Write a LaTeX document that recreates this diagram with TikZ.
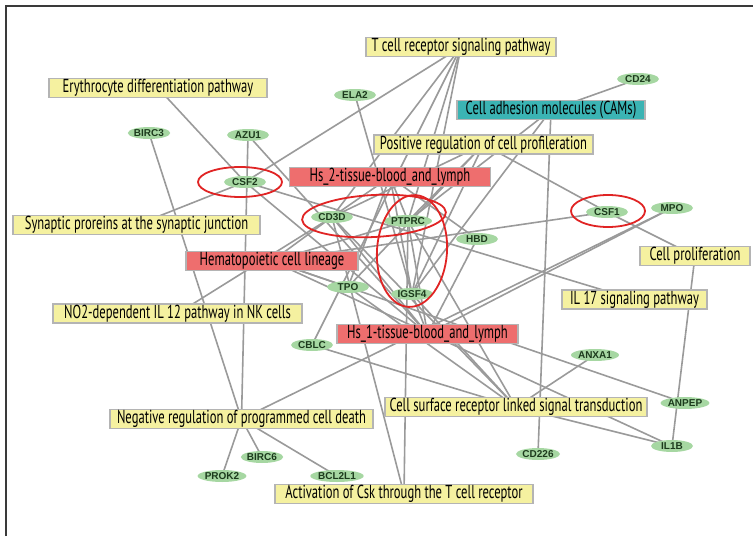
\documentclass[tikz,border=0pt]{standalone}
\usepackage{fontspec}
\setmainfont{PT Sans}
\newfontfamily\termfont[FakeStretch=0.67]{PT Sans}
\newfontfamily\genefont{Liberation Sans}
\usetikzlibrary{shapes.geometric,backgrounds}
\definecolor{netgray}{HTML}{9A9A9A}
\definecolor{boxrim}{HTML}{B4B4B4}
\definecolor{pwyellow}{HTML}{F5F1A0}
\definecolor{tsred}{HTML}{EE6E6E}
\definecolor{camteal}{HTML}{3BB4B4}
\definecolor{genegreen}{HTML}{A6D7A2}
\definecolor{geneink}{HTML}{1C3A1C}
\definecolor{ringred}{HTML}{E02424}
\definecolor{frameink}{HTML}{3A3A3A}
\tikzset{
  term/.style={draw=boxrim, line width=1.5pt, minimum height=19, inner sep=0pt, text=black, font=\termfont\fontsize{18.8}{18.8}\selectfont},
  pw/.style={term, fill=pwyellow},
  ts/.style={term, fill=tsred},
  cam/.style={term, fill=camteal},
  gene/.style={ellipse, fill=genegreen, minimum width=42, minimum height=12, inner sep=0pt, text=geneink, font=\genefont\bfseries\fontsize{10}{10}\selectfont},
  lnk/.style={draw=netgray, line width=1.6pt},
  ring/.style={draw=ringred, line width=1.8pt},
}

\begin{document}
\begin{tikzpicture}[x=1pt, y=-1pt]
  \useasboundingbox (0,0) rectangle (753,536);
  \draw[frameink, line width=1.2pt] (6,536) -- (6,6) -- (753,6);
  % pathway / tissue terms
  \node[pw, minimum width=190] (tcell) at (461,47) {T cell receptor signaling pathway};
  \node[pw, minimum width=218] (ery) at (158,88) {Erythrocyte differentiation pathway};
  \node[cam, minimum width=188] (cams) at (551,110) {Cell adhesion molecules (CAMs)};
  \node[pw, minimum width=219] (posreg) at (483.5,144.5) {Positive regulation of cell profileration};
  \node[ts, minimum width=201] (hstwo) at (390,177) {Hs\_2-tissue-blood\_and\_lymph};
  \node[pw, minimum width=247] (synap) at (136.5,225) {Synaptic proreins at the synaptic junction};
  \node[ts, minimum width=172] (hemato) at (272,261) {Hematopoietic cell lineage};
  \node[pw, minimum width=110] (cellprol) at (695,256) {Cell proliferation};
  \node[pw, minimum width=145] (ilsev) at (634.5,299.5) {IL 17 signaling pathway};
  \node[pw, minimum width=249] (notwo) at (177.5,313.5) {NO2-dependent IL 12 pathway in NK cells};
  \node[ts, minimum width=181] (hsone) at (427.5,334) {Hs\_1-tissue-blood\_and\_lymph};
  \node[pw, minimum width=262] (cellsurf) at (516,407) {Cell surface receptor linked signal transduction};
  \node[pw, minimum width=263] (negreg) at (241.5,419) {Negative regulation of programmed cell death};
  \node[pw, minimum width=258] (csk) at (404,494) {Activation of Csk through the T cell receptor};
  % genes
  \node[gene] (ela2) at (355,95) {ELA2};
  \node[gene] (cd24) at (638,79) {CD24};
  \node[gene] (birc3) at (149,133) {BIRC3};
  \node[gene] (azu1) at (248,135) {AZU1};
  \node[gene] (csf2) at (245,182) {CSF2};
  \node[gene] (cd3d) at (332,217) {CD3D};
  \node[gene] (ptprc) at (408,221) {PTPRC};
  \node[gene] (csf1) at (607,212) {CSF1};
  \node[gene] (mpo) at (672,208) {MPO};
  \node[gene] (hbd) at (477,239) {HBD};
  \node[gene] (tpo) at (348,287) {TPO};
  \node[gene] (igsf4) at (412,294) {IGSF4};
  \node[gene] (cblc) at (312,345) {CBLC};
  \node[gene] (anxa1) at (595,355) {ANXA1};
  \node[gene] (anpep) at (685,403) {ANPEP};
  \node[gene] (il1b) at (672,446) {IL1B};
  \node[gene] (cd226) at (538,454) {CD226};
  \node[gene] (birc6) at (262,457) {BIRC6};
  \node[gene] (prok2) at (222,476) {PROK2};
  \node[gene] (bcl2l1) at (337,476) {BCL2L1};
  % links
  \begin{scope}[on background layer]
    \foreach \a/\b in {tcell/csf2, tcell/cd3d, tcell/cblc, tcell/ptprc, tcell/igsf4,
        ela2/igsf4, cams/cd24, cams/cd226, cams/igsf4, cams/ptprc,
        posreg/csf1, posreg/cd3d, posreg/tpo, posreg/ptprc, posreg/igsf4,
        hstwo/cd3d, hstwo/ptprc, hstwo/hbd, hstwo/tpo, hstwo/igsf4,
        hemato/csf1, hemato/cd3d, hemato/tpo, hemato/ptprc, hemato/il1b, hemato/anpep,
        synap/csf2, ery/csf2, notwo/cd3d, ilsev/csf2,
        hsone/azu1, hsone/csf2, hsone/igsf4, hsone/mpo, hsone/hbd, hsone/cd3d, hsone/ptprc,
        cellsurf/cblc, cellsurf/cd3d, cellsurf/ptprc, cellsurf/igsf4, cellsurf/anxa1, cellsurf/il1b, cellsurf/tpo,
        negreg/birc3, negreg/azu1, negreg/birc6, negreg/prok2, negreg/bcl2l1, negreg/mpo,
        csk/cd3d, csk/ptprc, cellprol/csf1, cellprol/il1b}
      \draw[lnk] (\a.center) -- (\b.center);
  \end{scope}
  % highlighted genes
  \draw[ring] (240,182) ellipse [x radius=42, y radius=15];
  \draw[ring] (374,216) ellipse [x radius=72, y radius=21, rotate=3];
  \draw[ring] (412,251) ellipse [x radius=35, y radius=56, rotate=-4];
  \draw[ring] (608,211) ellipse [x radius=37, y radius=16];
\end{tikzpicture}
\end{document}
